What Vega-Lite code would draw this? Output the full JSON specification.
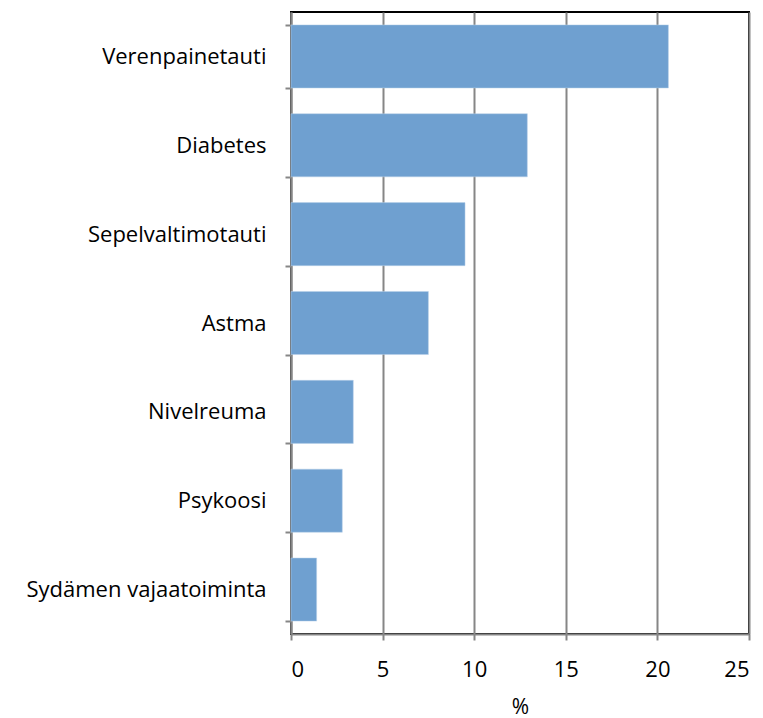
{
  "$schema": "https://vega.github.io/schema/vega-lite/v6.json",
  "width": 458,
  "height": 622,
  "autosize": "none",
  "padding": {"left": 291, "top": 12, "right": 14, "bottom": 84},
  "background": "white",
  "config": {
    "view": {"stroke": "#000000", "strokeWidth": 2},
    "font": "Open Sans"
  },
  "data": {
    "values": [
      {"sairaus": "Verenpainetauti", "osuus": 20.6},
      {"sairaus": "Diabetes", "osuus": 12.9},
      {"sairaus": "Sepelvaltimotauti", "osuus": 9.5},
      {"sairaus": "Astma", "osuus": 7.5},
      {"sairaus": "Nivelreuma", "osuus": 3.4},
      {"sairaus": "Psykoosi", "osuus": 2.8},
      {"sairaus": "Sydämen vajaatoiminta", "osuus": 1.4}
    ]
  },
  "mark": {"type": "bar", "color": "#6FA0D0", "stroke": "#B9D0E8", "strokeWidth": 0.5},
  "encoding": {
    "y": {
      "field": "sairaus",
      "type": "nominal",
      "sort": null,
      "scale": {"paddingInner": 0.29, "paddingOuter": 0.145},
      "axis": {
        "title": null,
        "tickBand": "extent",
        "tickSize": 6,
        "tickColor": "#868686",
        "tickWidth": 2,
        "domainColor": "#868686",
        "domainWidth": 2,
        "labelFont": "Open Sans",
        "labelFontSize": 22,
        "labelColor": "#000000",
        "labelPadding": 19,
        "labelLimit": 400,
        "grid": false
      }
    },
    "x": {
      "field": "osuus",
      "type": "quantitative",
      "scale": {"domain": [0, 25], "nice": false},
      "axis": {
        "title": "%",
        "values": [0, 5, 10, 15, 20, 25],
        "titleFont": "Open Sans",
        "titleFontSize": 21,
        "titleFontWeight": "normal",
        "titleColor": "#000000",
        "titleBaseline": "bottom",
        "titleY": 83,
        "tickSize": 6,
        "tickColor": "#868686",
        "tickWidth": 2,
        "domainColor": "#868686",
        "domainWidth": 2,
        "grid": true,
        "gridColor": "#868686",
        "gridWidth": 2,
        "labelFont": "Open Sans",
        "labelFontSize": 22,
        "labelColor": "#000000",
        "labelPadding": 19
      }
    }
  }
}
